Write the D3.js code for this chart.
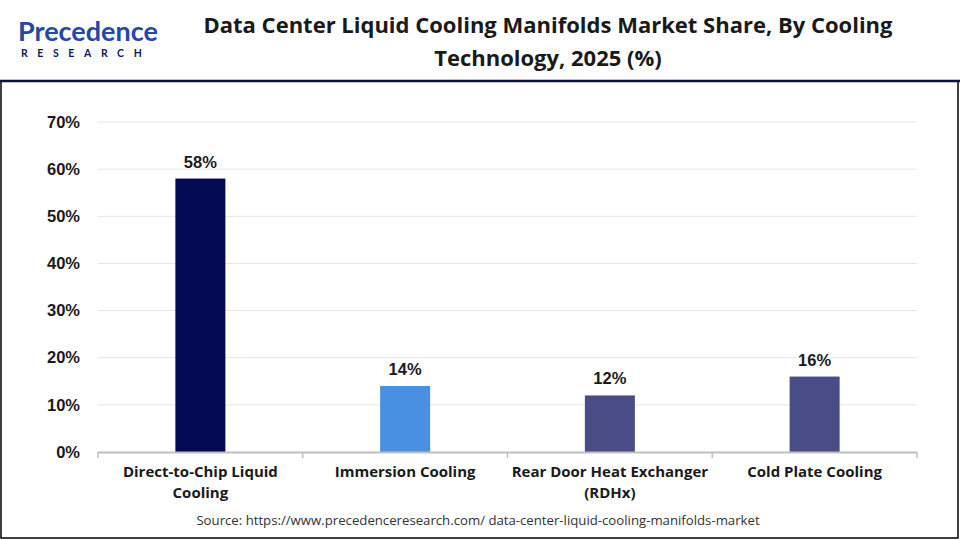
<!DOCTYPE html>
<html>
<head>
<meta charset="utf-8">
<script src="https://cdn.jsdelivr.net/npm/d3@7"></script>
<style>
  html, body { margin: 0; padding: 0; background: #fff; }
  svg { display: block; }
</style>
</head>
<body>
<svg id="chart" width="960" height="540"></svg>
<script>
const categories = [["Direct-to-Chip Liquid", "Cooling"], ["Immersion Cooling"], ["Rear Door Heat Exchanger", "(RDHx)"], ["Cold Plate Cooling"]];
const values = [58, 14, 12, 16];
const barColors = ["#030a52", "#4a90e2", "#4a4c87", "#4a4c87"];
const yTicks = [0, 10, 20, 30, 40, 50, 60, 70];
const titleLines = ["Data Center Liquid Cooling Manifolds Market Share, By Cooling", "Technology, 2025 (%)"];
const sourceText = "Source: https://www.precedenceresearch.com/ data-center-liquid-cooling-manifolds-market";

const svg = d3.select("#chart");
const W = 960, H = 540;
const plot = { left: 98, right: 917, top: 122, bottom: 452 };

// frame
svg.append("rect").attr("x", 1).attr("y", 81).attr("width", 957).attr("height", 457)
  .attr("fill", "none").attr("stroke", "#000").attr("stroke-width", 1.5);
svg.append("line").attr("x1", 0).attr("x2", W).attr("y1", 81).attr("y2", 81)
  .attr("stroke", "#0b0d45").attr("stroke-width", 2.5);

// logo
const logo = svg.append("g").attr("transform", "translate(18,0)");
logo.append("text").attr("x", 0).attr("y", 41)
  .attr("font-family", "Lato, 'Open Sans', sans-serif").attr("font-size", 27).attr("font-weight", 700)
  .attr("fill", "#2348a8")
  .text("Precedence");
logo.append("text").attr("x", 3).attr("y", 57)
  .attr("font-family", "Lato, 'Open Sans', sans-serif").attr("font-size", 10.5).attr("font-weight", 700)
  .attr("fill", "#0d1a5c").attr("letter-spacing", 9.6)
  .text("RESEARCH");

// title
svg.append("g").selectAll("text").data(titleLines).join("text")
  .attr("x", 548).attr("y", (d, i) => 33 + i * 33)
  .attr("text-anchor", "middle")
  .attr("font-family", "'Open Sans', sans-serif").attr("font-size", 22).attr("font-weight", 700)
  .attr("fill", "#1a1a1a")
  .text(d => d);

// scales
const x = d3.scaleBand().domain(d3.range(categories.length)).range([plot.left, plot.right]).paddingInner(0).paddingOuter(0);
const y = d3.scaleLinear().domain([0, 70]).range([plot.bottom, plot.top]);

// gridlines
svg.append("g").selectAll("line").data(yTicks.filter(t => t > 0)).join("line")
  .attr("x1", plot.left).attr("x2", plot.right)
  .attr("y1", d => y(d)).attr("y2", d => y(d))
  .attr("stroke", "#e5e5e5").attr("stroke-width", 1);

// y axis labels
const yAxis = svg.append("g").attr("transform", `translate(${plot.left},0)`)
  .call(d3.axisLeft(y).tickValues(yTicks).tickFormat(d => d + "%").tickSize(0).tickPadding(18));
yAxis.select(".domain").remove();
yAxis.selectAll("text").attr("font-family", "'Liberation Sans', Arial, sans-serif")
  .attr("font-size", 16.5).attr("font-weight", 700).attr("fill", "#1a1a1a");

// bars
const barW = 50;
svg.append("g").selectAll("rect").data(values).join("rect")
  .attr("x", (d, i) => x(i) + x.bandwidth() / 2 - barW / 2)
  .attr("width", barW)
  .attr("y", d => y(d))
  .attr("height", d => y(0) - y(d))
  .attr("fill", (d, i) => barColors[i]);

// value labels
svg.append("g").selectAll("text").data(values).join("text")
  .attr("x", (d, i) => x(i) + x.bandwidth() / 2)
  .attr("y", d => y(d) - 11)
  .attr("text-anchor", "middle")
  .attr("font-family", "'Liberation Sans', Arial, sans-serif").attr("font-size", 16.5).attr("font-weight", 700)
  .attr("fill", "#1a1a1a")
  .text(d => d + "%");

// x axis
const xAxisG = svg.append("g");
xAxisG.append("line").attr("x1", plot.left).attr("x2", plot.right)
  .attr("y1", plot.bottom + 0.5).attr("y2", plot.bottom + 0.5)
  .attr("stroke", "#bfbfbf").attr("stroke-width", 2);
const boundaries = d3.range(categories.length + 1).map(i => plot.left + i * x.bandwidth());
xAxisG.selectAll("line.tick").data(boundaries).join("line").attr("class", "tick")
  .attr("x1", d => d).attr("x2", d => d)
  .attr("y1", plot.bottom).attr("y2", plot.bottom + 6)
  .attr("stroke", "#bfbfbf").attr("stroke-width", 1.5);

const catG = xAxisG.selectAll("text.cat").data(categories).join("text").attr("class", "cat")
  .attr("text-anchor", "middle")
  .attr("font-family", "'Open Sans', sans-serif").attr("font-size", 15).attr("font-weight", 700)
  .attr("fill", "#1a1a1a");
catG.each(function(d, i) {
  const t = d3.select(this);
  d.forEach((line, j) => {
    t.append("tspan").attr("x", x(i) + x.bandwidth() / 2).attr("y", 477 + j * 21).text(line);
  });
});

// source
svg.append("text").attr("x", 478).attr("y", 525).attr("text-anchor", "middle")
  .attr("font-family", "'Open Sans', sans-serif").attr("font-size", 13.2).attr("fill", "#333")
  .text(sourceText);
</script>
</body>
</html>
